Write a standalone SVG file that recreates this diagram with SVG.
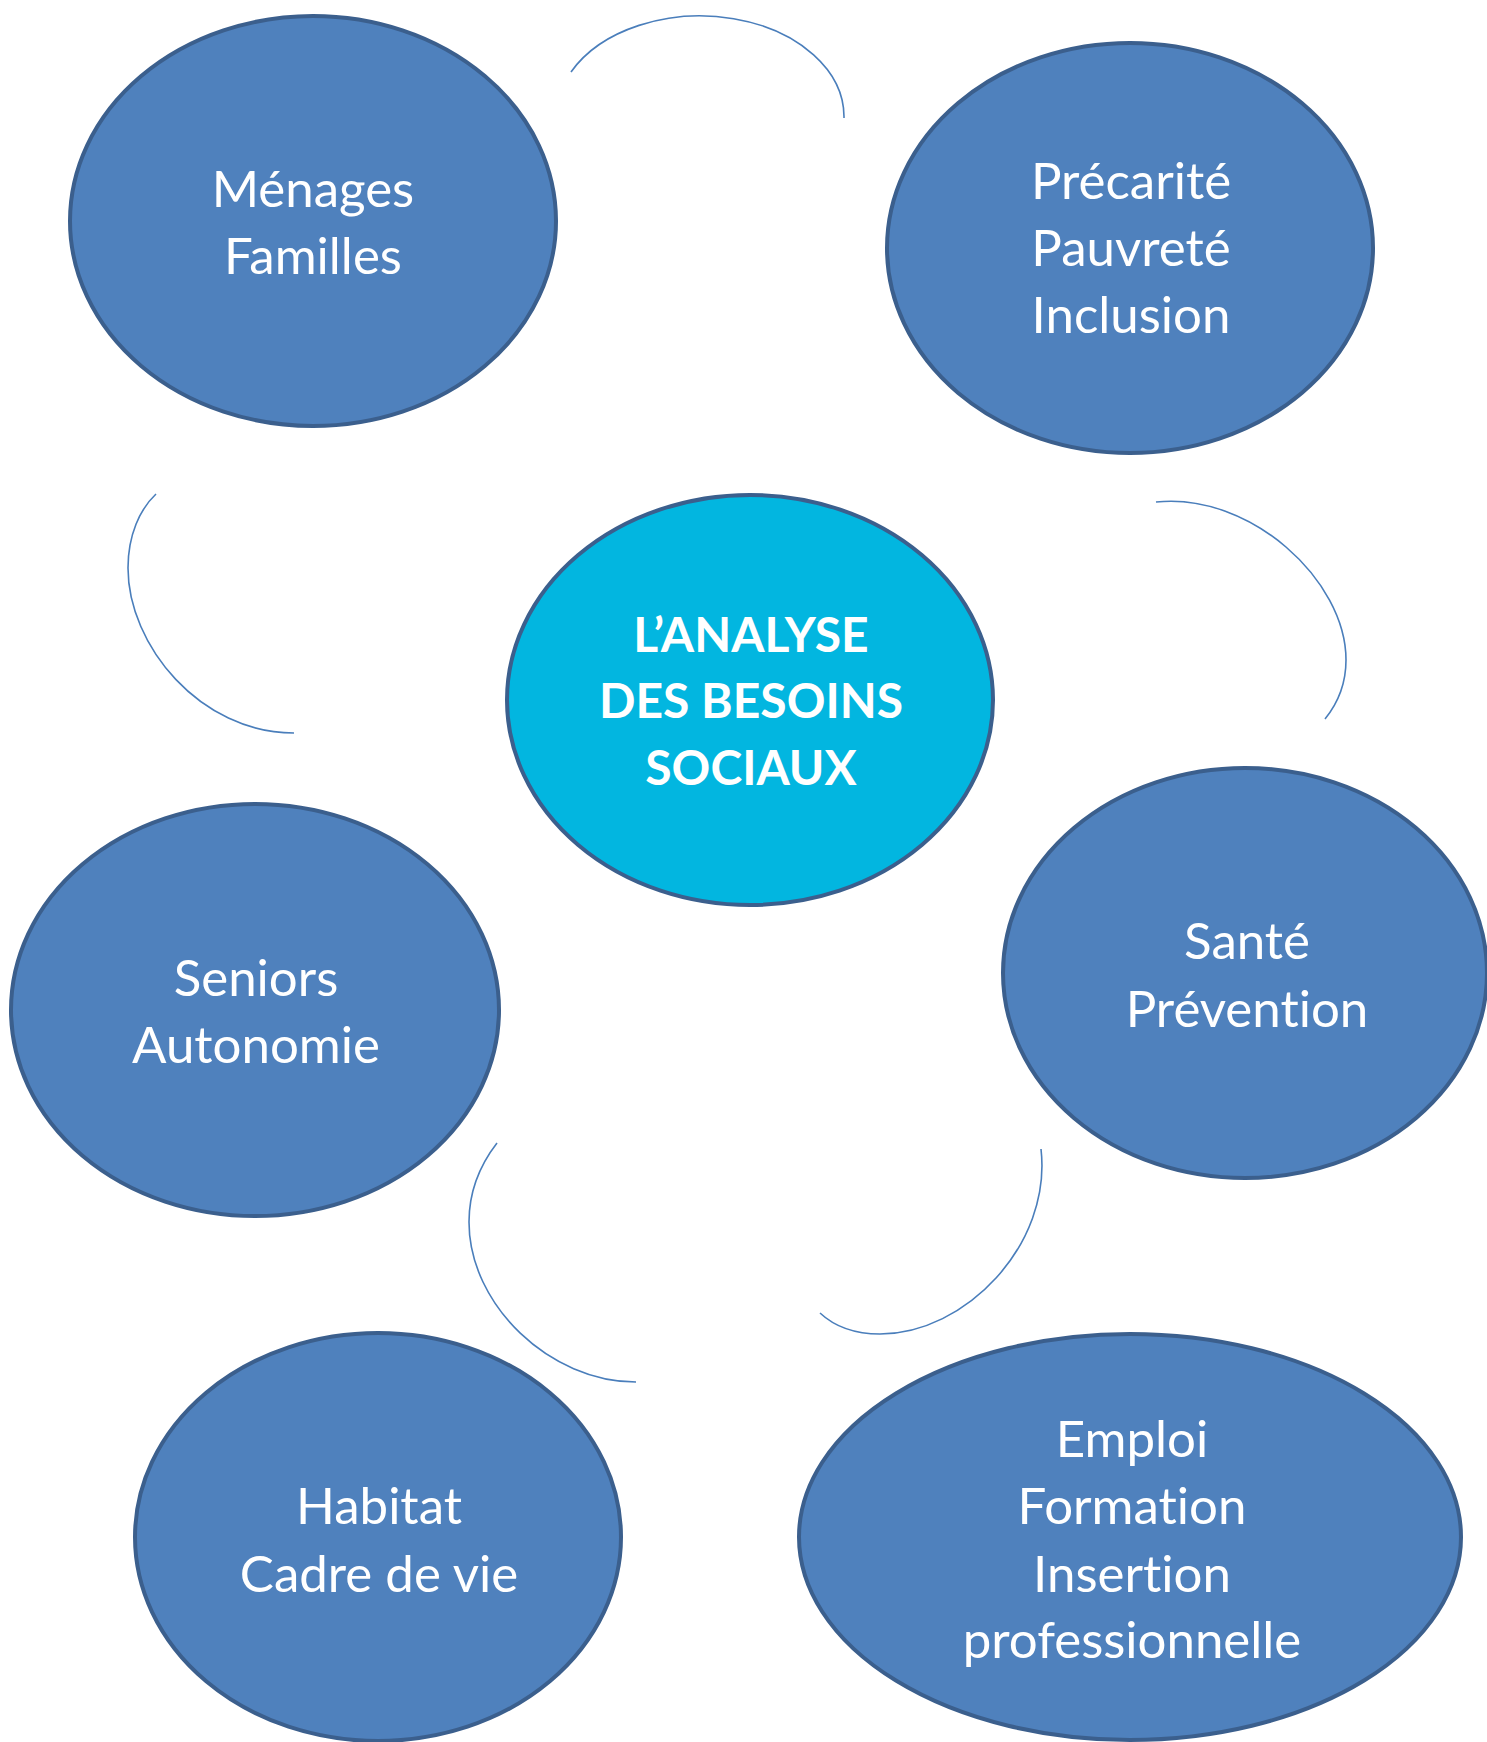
<svg xmlns="http://www.w3.org/2000/svg" width="1487" height="1742" viewBox="0 0 1487 1742">
<style>
.node{fill:#4F81BD;stroke:#3B5F8D;stroke-width:4}
.hub{fill:#02B6E0;stroke:#3B5F8D;stroke-width:4}
.lbl{font-family:Lato,"Liberation Sans",sans-serif;font-size:51px;fill:#FFFFFF;text-anchor:middle;font-variant-ligatures:none;font-feature-settings:"liga" 0,"dlig" 0}
.hublbl{font-family:Lato,"Liberation Sans",sans-serif;font-size:48px;font-weight:bold;fill:#FFFFFF;text-anchor:middle;font-variant-ligatures:none}
.arc{fill:none;stroke:#4A7EBB;stroke-width:1.6}
</style>
<rect width="1487" height="1742" fill="#FFFFFF"/>
<g id="connectors">
<path class="arc" d="M571,72 A144,101 0 0 1 844,118"/>
<path class="arc" d="M156,494 C140,509 128,535 128,568 C128,645 200,733 294,733"/>
<path class="arc" d="M1156,502 C1250,492 1346,580 1346,660 C1346,685 1338,703 1325,719"/>
<path class="arc" d="M497,1143 C480,1165 469,1190 469,1222 C469,1305 550,1382 636,1382"/>
<path class="arc" d="M1041,1149 C1052,1245 965,1334 880,1334 C855,1334 835,1327 820,1313"/>
</g>
<g id="menages">
<ellipse class="node" cx="313" cy="221" rx="243" ry="205"/>
<text class="lbl" x="313" y="207">Ménages</text>
<text class="lbl" x="313" y="274">Familles</text>
</g>
<g id="precarite">
<ellipse class="node" cx="1130" cy="248" rx="243" ry="205"/>
<text class="lbl" x="1131" y="199">Précarité</text>
<text class="lbl" x="1131" y="266">Pauvreté</text>
<text class="lbl" x="1131" y="333">Inclusion</text>
</g>
<g id="analyse">
<ellipse class="hub" cx="750" cy="700" rx="243" ry="205"/>
<text class="hublbl" x="751" y="652">L’ANALYSE</text>
<text class="hublbl" x="751" y="718">DES BESOINS</text>
<text class="hublbl" x="751" y="785">SOCIAUX</text>
</g>
<g id="sante">
<ellipse class="node" cx="1245" cy="973" rx="242" ry="205"/>
<text class="lbl" x="1247" y="959">Santé</text>
<text class="lbl" x="1247" y="1027">Prévention</text>
</g>
<g id="seniors">
<ellipse class="node" cx="255" cy="1010" rx="244" ry="206"/>
<text class="lbl" x="256" y="996">Seniors</text>
<text class="lbl" x="256" y="1063">Autonomie</text>
</g>
<g id="habitat">
<ellipse class="node" cx="378" cy="1537" rx="243" ry="204"/>
<text class="lbl" x="379" y="1524">Habitat</text>
<text class="lbl" x="379" y="1592">Cadre de vie</text>
</g>
<g id="emploi">
<ellipse class="node" cx="1130" cy="1537" rx="331" ry="203"/>
<text class="lbl" x="1132" y="1457">Emploi</text>
<text class="lbl" x="1132" y="1524">Formation</text>
<text class="lbl" x="1132" y="1592">Insertion</text>
<text class="lbl" x="1132" y="1658">professionnelle</text>
</g>
</svg>
